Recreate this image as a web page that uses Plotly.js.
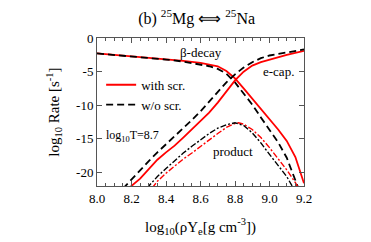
<!DOCTYPE html>
<html>
<head>
<meta charset="utf-8">
<script src="https://cdn.plot.ly/plotly-3.0.1.min.js"></script>
<style>html,body{margin:0;padding:0;background:#fff;}#chart{width:371px;height:242px;}</style>
</head>
<body>
<div id="chart"></div>
<script>
// beta-decay, with screening (red solid)
const betaScrX = [8.0, 8.1, 8.2, 8.3, 8.4, 8.5, 8.6, 8.65, 8.7, 8.75, 8.8, 8.85, 8.9, 8.95, 9.0, 9.05, 9.1, 9.15, 9.2];
const betaScrY = [-2.3, -2.5, -2.7, -2.9, -3.1, -3.4, -3.7, -3.9, -4.2, -4.9, -6.0, -7.5, -9.0, -10.6, -12.0, -13.6, -15.3, -17.7, -21.6];
// beta-decay, without screening (black dashed)
const betaNoX = [8.0, 8.2, 8.4, 8.5, 8.6, 8.65, 8.7, 8.75, 8.8, 8.85, 8.9, 8.95, 9.0, 9.05, 9.1, 9.15, 9.17];
const betaNoY = [-2.3, -2.7, -3.2, -3.5, -3.9, -4.2, -4.6, -5.3, -6.6, -8.2, -9.9, -11.8, -13.6, -15.5, -17.8, -21.0, -22.5];
// electron capture, with screening (red solid)
const ecapScrX = [8.19, 8.25, 8.3, 8.35, 8.4, 8.45, 8.5, 8.55, 8.6, 8.65, 8.7, 8.75, 8.8, 8.85, 8.9, 8.95, 9.0, 9.1, 9.2];
const ecapScrY = [-22.2, -20.9, -19.5, -18.1, -17.0, -16.0, -14.8, -13.6, -12.3, -11.1, -9.6, -7.9, -6.3, -5.0, -4.1, -3.6, -3.2, -2.5, -1.9];
// electron capture, without screening (black dashed)
const ecapNoX = [8.15, 8.2, 8.25, 8.3, 8.35, 8.4, 8.45, 8.5, 8.55, 8.6, 8.65, 8.7, 8.75, 8.8, 8.85, 8.9, 8.95, 9.0, 9.1, 9.2];
const ecapNoY = [-22.4, -21.0, -19.6, -18.3, -17.0, -15.8, -14.7, -13.4, -12.2, -10.9, -9.5, -8.0, -6.6, -5.4, -4.4, -3.6, -3.0, -2.6, -2.1, -1.7];
// product, with screening (red dash-dot)
const prodScrX = [8.32, 8.35, 8.4, 8.45, 8.5, 8.55, 8.6, 8.65, 8.7, 8.75, 8.8, 8.82, 8.85, 8.9, 8.95, 9.0, 9.05, 9.1, 9.15, 9.17];
const prodScrY = [-22.3, -21.3, -20.1, -19.0, -18.0, -17.1, -16.1, -15.2, -14.2, -13.3, -12.7, -12.6, -12.8, -13.6, -14.8, -16.3, -17.9, -19.6, -21.5, -22.4];
// product, without screening (black dash-dot)
const prodNoX = [8.29, 8.35, 8.4, 8.45, 8.5, 8.55, 8.6, 8.65, 8.7, 8.75, 8.8, 8.85, 8.9, 8.95, 9.0, 9.05, 9.1, 9.14];
const prodNoY = [-22.3, -20.6, -19.4, -18.2, -17.1, -16.1, -15.1, -14.2, -13.4, -12.9, -12.6, -13.0, -14.1, -15.6, -17.3, -18.9, -20.6, -22.4];

const xTicks = [8.0, 8.2, 8.4, 8.6, 8.8, 9.0, 9.2];
const xTickText = ['8.0', '8.2', '8.4', '8.6', '8.8', '9.0', '9.2'];
const yTicks = [0, -5, -10, -15, -20];
const yTickText = ['0', '-5', '-10', '-15', '-20'];

const RED = '#ff0000', BLACK = '#000000';
const F = '"Liberation Serif", "Times New Roman", Times, serif';

const traces = [
  {x: betaScrX, y: betaScrY, mode: 'lines', line: {color: RED, width: 1.8}, name: 'with scr.', showlegend: true},
  {x: betaNoX, y: betaNoY, mode: 'lines', line: {color: BLACK, width: 1.8, dash: '7px,4px'}, name: 'w/o scr.', showlegend: true},
  {x: ecapScrX, y: ecapScrY, mode: 'lines', line: {color: RED, width: 1.8}, showlegend: false},
  {x: ecapNoX, y: ecapNoY, mode: 'lines', line: {color: BLACK, width: 1.8, dash: '7px,4px'}, showlegend: false},
  {x: prodScrX, y: prodScrY, mode: 'lines', line: {color: RED, width: 1.4, dash: '6px,2px,2px,2px'}, showlegend: false},
  {x: prodNoX, y: prodNoY, mode: 'lines', line: {color: BLACK, width: 1.4, dash: '6px,2px,2px,2px'}, showlegend: false}
];

const axisCommon = {
  showline: true, linecolor: '#555', linewidth: 1, mirror: 'ticks',
  ticks: 'inside', ticklen: 5, tickcolor: '#555', showgrid: false, zeroline: false,
  tickfont: {family: F, size: 13, color: '#000'}
};

const layout = {
  width: 371, height: 242,
  margin: {l: 97, r: 67, t: 38, b: 56},
  paper_bgcolor: '#fff', plot_bgcolor: '#fff',
  font: {family: F, color: '#000'},
  title: {text: '(b) <sup>25</sup>Mg ⟺ <sup>25</sup>Na', font: {family: F, size: 16, color: '#000'}, x: 0.53, xanchor: 'center', y: 0.925, yanchor: 'middle'},
  xaxis: Object.assign({}, axisCommon, {
    range: [8.0, 9.2], tickvals: xTicks, ticktext: xTickText,
    minor: {dtick: 0.05, ticks: 'inside', ticklen: 3, tickcolor: '#555'},
    title: {text: 'log<sub>10</sub>(ρY<sub>e</sub>[g cm<sup>-3</sup>])', font: {family: F, size: 15, color: '#000'}, standoff: 16}
  }),
  yaxis: Object.assign({}, axisCommon, {
    range: [-22, 0], tickvals: yTicks, ticktext: yTickText,
    title: {text: 'log<sub>10</sub> Rate [s<sup>-1</sup>]', font: {family: F, size: 15, color: '#000'}, standoff: 12}
  }),
  legend: {x: 0.02, y: 0.785, xanchor: 'left', yanchor: 'top', bgcolor: 'rgba(0,0,0,0)', font: {family: F, size: 13, color: '#000'}, tracegroupgap: 0, itemwidth: 30},
  annotations: [
    {x: 8.6, y: -2.1, text: 'β-decay', showarrow: false, font: {family: F, size: 13, color: '#000'}},
    {x: 9.05, y: -5.0, text: 'e-cap.', showarrow: false, font: {family: F, size: 13, color: '#000'}},
    {x: 8.04, y: -14.6, xanchor: 'left', text: 'log<sub>10</sub>T=8.7', showarrow: false, font: {family: F, size: 12, color: '#000'}},
    {x: 8.79, y: -16.8, text: 'product', showarrow: false, font: {family: F, size: 13, color: '#000'}}
  ]
};

Plotly.newPlot('chart', traces, layout, {staticPlot: true, displayModeBar: false});
</script>
</body>
</html>
